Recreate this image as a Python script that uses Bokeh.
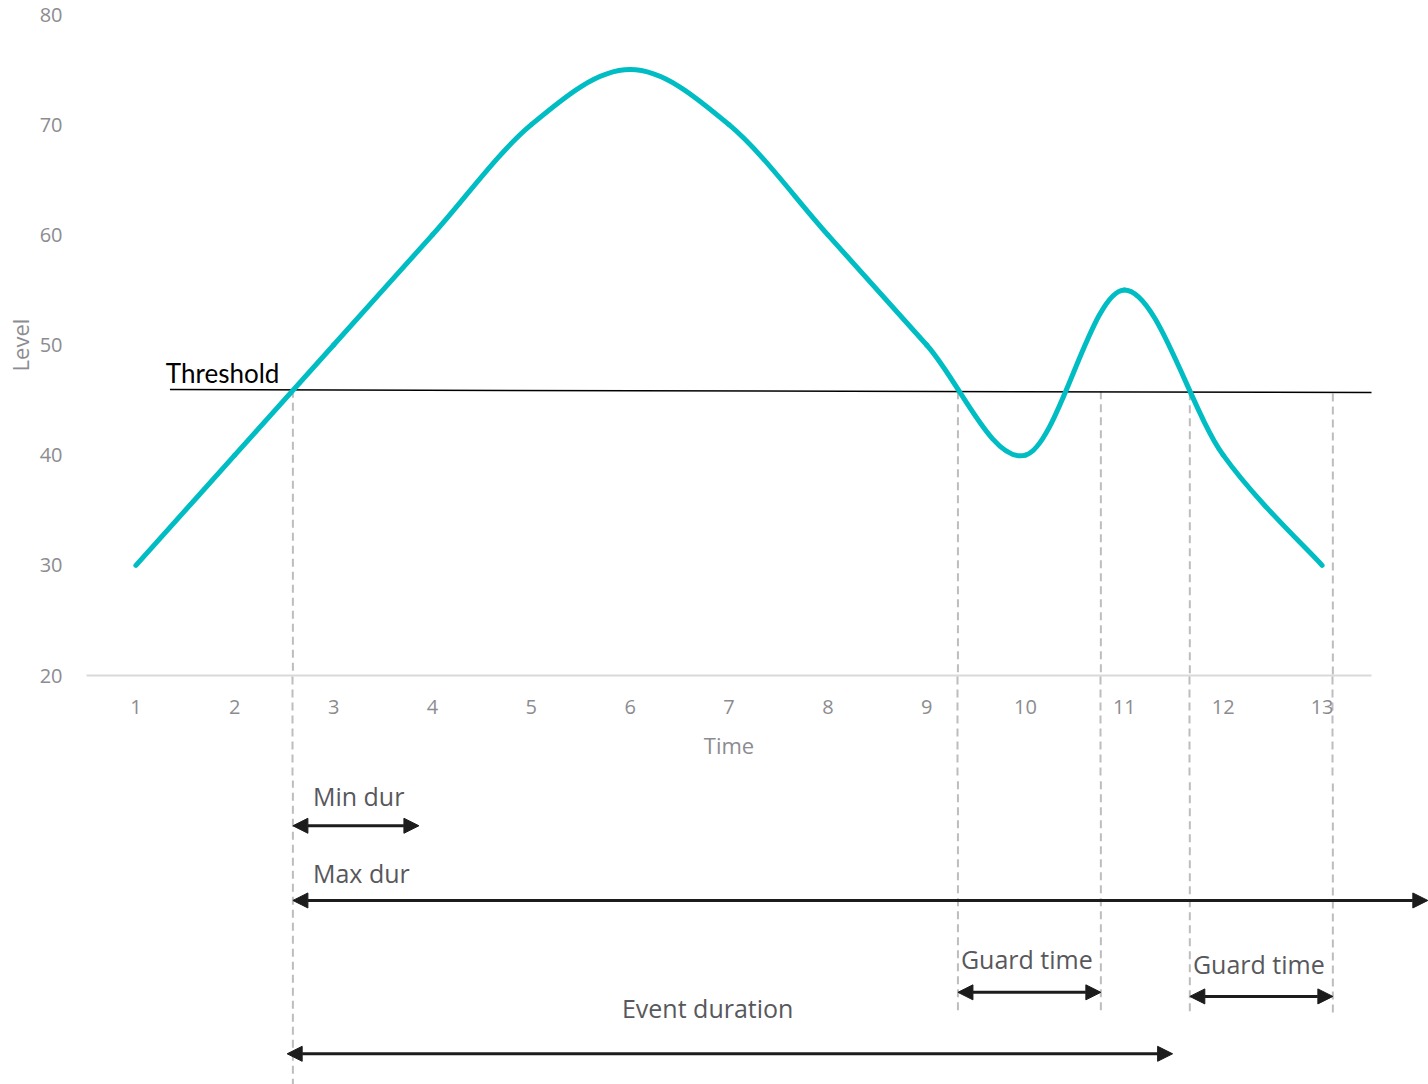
from bokeh.plotting import figure
from bokeh.layouts import column
from bokeh.models import Range1d, FixedTicker, Arrow, NormalHead, Label
from bokeh.embed import file_html
from bokeh.resources import INLINE

# ---------------- data ----------------
time = [1, 2, 3, 4, 5, 6, 7, 8, 9, 10, 11, 12, 13]
level = [30, 40, 50, 60, 70, 75, 70, 60, 50, 40, 55, 40, 30]
x_ticks = [1, 2, 3, 4, 5, 6, 7, 8, 9, 10, 11, 12, 13]
y_ticks = [20, 30, 40, 50, 60, 70, 80]

threshold_x = [1.344, 13.57]
threshold_y = [45.95, 45.68]
threshold_text = "Threshold"
threshold_text_pos = [1.303, 46.48]

guide_x = [2.588, 9.316, 10.762, 11.662, 13.109]
guide_top = [45.93, 45.80, 45.80, 45.70, 45.60]
guide_bottom = [-17.5, -10.45, -10.45, -10.72, -10.72]

span_names = ["Min dur", "Max dur", "Guard time", "Guard time", "Event duration"]
span_start = [2.588, 2.588, 9.316, 11.662, 2.53]
span_end = [3.863, 14.07, 10.762, 13.109, 11.488]
span_y = [6.36, -0.42, -8.76, -9.13, -14.34]
span_label_x = [2.791, 2.791, 9.346, 11.693, 5.917]
span_label_y = [8.25, 1.30, -6.57, -7.02, -10.99]

# ---------------- styles / layout ----------------
TEAL = "#00BDC4"
TICK_GREY = "#8c8c90"
TEXT_GREY = "#58585c"
ARROW_BLACK = "#1c1c1c"
DASH_GREY = "#bdbdc0"
FONT = "Open Sans"

X0, X1, Y0, Y1 = 0.5, 13.5, 20, 80
FRAME_W, FRAME_H = 1285, 661
LEFT, RIGHT, TOP, BOTTOM = 86, 57, 14, 105
PAGE_W, PAGE_H = 1428, 1084
LOWER_H = PAGE_H - (TOP + FRAME_H + BOTTOM)
px_x = FRAME_W / (X1 - X0)
px_y = FRAME_H / (Y1 - Y0)
BASELINE_FIX = 9 / px_y   # lifts labels so their alphabetic baseline sits where measured
GUIDE_TICK = BOTTOM + 8

# ---------------- main chart ----------------
p = figure(
    frame_width=FRAME_W, frame_height=FRAME_H,
    min_border_left=LEFT, min_border_right=RIGHT, min_border_top=TOP, min_border_bottom=BOTTOM,
    x_range=Range1d(X0, X1), y_range=Range1d(Y0, Y1),
    output_backend="svg", toolbar_location=None,
    background_fill_color="white", border_fill_color="white",
)
p.outline_line_color = None
p.grid.visible = False

# dashed guide lines (upper part)
p.segment(x0=guide_x, y0=guide_top, x1=guide_x, y1=guide_bottom,
          line_color=DASH_GREY, line_width=2, line_dash="8 5")

# threshold line
p.segment(x0=[threshold_x[0]], y0=[threshold_y[0]], x1=[threshold_x[1]], y1=[threshold_y[1]],
          line_color="black", line_width=1.5)
p.add_layout(Label(x=threshold_text_pos[0], y=threshold_text_pos[1] + BASELINE_FIX + 1.5 / px_y,
                   text=threshold_text, text_font="Lato", text_font_size="26px",
                   text_color="black", text_baseline="alphabetic", text_align="left"))

# smooth line through the points (cubic Bezier segments, Catmull-Rom style control points)
n = len(time)
bx0, by0, bx1, by1, cx0, cy0, cx1, cy1 = [], [], [], [], [], [], [], []
for i in range(n - 1):
    a = max(i - 1, 0)
    b = min(i + 2, n - 1)
    bx0.append(time[i]); by0.append(level[i])
    bx1.append(time[i + 1]); by1.append(level[i + 1])
    cx0.append(time[i] + (time[i + 1] - time[a]) / 6.0)
    cy0.append(level[i] + (level[i + 1] - level[a]) / 6.0)
    cx1.append(time[i + 1] - (time[b] - time[i]) / 6.0)
    cy1.append(level[i + 1] - (level[b] - level[i]) / 6.0)
p.bezier(x0=bx0, y0=by0, x1=bx1, y1=by1, cx0=cx0, cy0=cy0, cx1=cx1, cy1=cy1,
         line_color=TEAL, line_width=5, line_cap="round")

# axes (minor ticks of the x axis continue the dashed guides through the label band)
p.xaxis.ticker = FixedTicker(ticks=x_ticks, minor_ticks=guide_x)
p.yaxis.ticker = FixedTicker(ticks=y_ticks)
p.xaxis.axis_label = "Time"
p.yaxis.axis_label = "Level"
for ax in (p.xaxis, p.yaxis):
    ax.major_tick_line_color = None
    ax.major_tick_in = 0
    ax.major_tick_out = 0
    ax.major_label_text_font = FONT
    ax.major_label_text_font_size = "20px"
    ax.major_label_text_color = TICK_GREY
    ax.axis_label_text_font = FONT
    ax.axis_label_text_font_size = "22px"
    ax.axis_label_text_font_style = "normal"
    ax.axis_label_text_color = TICK_GREY
p.yaxis.minor_tick_line_color = None
p.yaxis.minor_tick_in = 0
p.yaxis.minor_tick_out = 0
p.xaxis.minor_tick_in = 0
p.xaxis.minor_tick_out = GUIDE_TICK
p.xaxis.minor_tick_line_color = DASH_GREY
p.xaxis.minor_tick_line_width = 2
p.xaxis.minor_tick_line_dash = "8 5"
p.xaxis.axis_line_color = "#d9d9d9"
p.xaxis.axis_line_width = 2
p.xaxis.major_label_standoff = 24 - GUIDE_TICK
p.xaxis.axis_label_standoff = 13
p.yaxis.axis_line_color = None
p.yaxis.major_label_standoff = 24
p.yaxis.axis_label_standoff = 2

# ---------------- annotation strip below the chart (same data scale) ----------------
lx0 = X0
lx1 = X0 + (PAGE_W - LEFT) / px_x
ly1 = Y0 - BOTTOM / px_y
ly0 = ly1 - LOWER_H / px_y
q = figure(
    frame_width=PAGE_W - LEFT, frame_height=LOWER_H,
    min_border_left=LEFT, min_border_right=0, min_border_top=0, min_border_bottom=0,
    x_range=Range1d(lx0, lx1), y_range=Range1d(ly0, ly1),
    x_axis_location=None, y_axis_location=None,
    output_backend="svg", toolbar_location=None,
    background_fill_color="white", border_fill_color="white",
)
q.outline_line_color = None
q.grid.visible = False

q.segment(x0=guide_x, y0=guide_top, x1=guide_x, y1=guide_bottom,
          line_color=DASH_GREY, line_width=2, line_dash="8 5")

for name, xs, xe, yy, lx, ly in zip(span_names, span_start, span_end, span_y,
                                    span_label_x, span_label_y):
    start_head = NormalHead(size=15, fill_color=ARROW_BLACK, line_color=ARROW_BLACK, line_width=1)
    end_head = NormalHead(size=15, fill_color=ARROW_BLACK, line_color=ARROW_BLACK, line_width=1)
    q.add_layout(Arrow(x_start=xs, y_start=yy, x_end=xe, y_end=yy,
                       start=start_head, end=end_head,
                       line_color=ARROW_BLACK, line_width=3))
    q.add_layout(Label(x=lx, y=ly + BASELINE_FIX, text=name, text_font=FONT,
                       text_font_size="25px", text_color=TEXT_GREY,
                       text_baseline="alphabetic", text_align="left"))

layout = column(p, q, spacing=0)
open("out.html", "w").write(file_html(layout, INLINE))
